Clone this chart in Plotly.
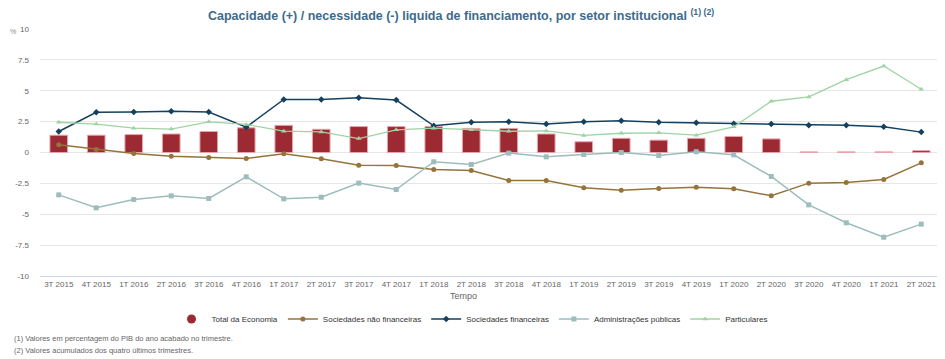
import plotly.graph_objects as go

categories = ["3T 2015", "4T 2015", "1T 2016", "2T 2016", "3T 2016", "4T 2016",
              "1T 2017", "2T 2017", "3T 2017", "4T 2017", "1T 2018", "2T 2018",
              "3T 2018", "4T 2018", "1T 2019", "2T 2019", "3T 2019", "4T 2019",
              "1T 2020", "2T 2020", "3T 2020", "4T 2020", "1T 2021", "2T 2021"]

total_economia = [1.4, 1.4, 1.45, 1.5, 1.7, 2.0, 2.2, 1.88, 2.1, 2.1, 2.1, 1.95,
                  1.95, 1.5, 0.87, 1.15, 1.0, 1.15, 1.3, 1.1, 0.05, 0.05, 0.05, 0.15]

soc_nao_financeiras = [0.62, 0.24, -0.08, -0.3, -0.4, -0.49, -0.1, -0.51, -1.03, -1.05,
                       -1.38, -1.46, -2.27, -2.27, -2.86, -3.05, -2.92, -2.81, -2.94,
                       -3.5, -2.48, -2.43, -2.19, -0.84]

soc_financeiras = [1.7, 3.25, 3.27, 3.35, 3.27, 2.05, 4.3, 4.3, 4.43, 4.25, 2.16, 2.45,
                   2.48, 2.3, 2.48, 2.57, 2.45, 2.4, 2.32, 2.3, 2.2, 2.2, 2.08, 1.65]

adm_publicas = [-3.43, -4.48, -3.81, -3.51, -3.72, -1.97, -3.75, -3.62, -2.48, -3.0,
                -0.75, -0.97, -0.05, -0.35, -0.16, 0.0, -0.24, 0.06, -0.19, -1.94,
                -4.24, -5.69, -6.86, -5.8]

particulares = [2.45, 2.3, 1.97, 1.9, 2.48, 2.27, 1.73, 1.67, 1.13, 1.84, 1.97, 1.84,
                1.72, 1.75, 1.38, 1.56, 1.59, 1.4, 2.08, 4.15, 4.5, 5.9, 7.0, 5.12]

y_ticks = [-10, -7.5, -5, -2.5, 0, 2.5, 5, 7.5, 10]

FONT = "Liberation Sans, Arial, sans-serif"

fig = go.Figure()

fig.add_trace(go.Bar(
    x=categories, y=total_economia, name="Total da Economia", showlegend=False,
    legendgroup="total",
    marker=dict(color="#9b2a33", line=dict(color="#e9a3ab", width=1)),
))
# legend entry for the bar series drawn as a round symbol
fig.add_trace(go.Scatter(
    x=[None], y=[None], name="Total da Economia", mode="markers", legendgroup="total",
    marker=dict(color="#9b2a33", symbol="circle", size=9),
))

line_series = [
    ("Sociedades não financeiras", soc_nao_financeiras, "#94743a", "circle", 1.5),
    ("Sociedades financeiras", soc_financeiras, "#13415f", "diamond", 1.5),
    ("Administrações públicas", adm_publicas, "#9dbdbc", "square", 1.5),
    ("Particulares", particulares, "#9fd3a4", "triangle-up", 1.3),
]
for name, vals, color, sym, w in line_series:
    fig.add_trace(go.Scatter(
        x=categories, y=vals, name=name, mode="lines+markers",
        line=dict(color=color, width=w),
        marker=dict(color=color, symbol=sym, size=5),
    ))

fig.update_layout(
    width=937, height=351,
    margin=dict(l=32, r=5, t=21, b=83),
    paper_bgcolor="white", plot_bgcolor="white",
    font=dict(family=FONT, color="#666666", size=9),
    bargap=0.53,
    showlegend=True,
    legend=dict(orientation="h", x=0.48, xanchor="center", y=-0.174, yanchor="middle",
                font=dict(size=8, color="#333333"), itemwidth=30,
                traceorder="normal", tracegroupgap=0),
    xaxis=dict(
        type="category", range=[-0.5, 23.5],
        showgrid=False, showline=True, linecolor="#ccd6eb", linewidth=1,
        ticks="", tickfont=dict(size=8, color="#666666"), tickangle=0,
    ),
    yaxis=dict(
        range=[-10, 10], tickvals=y_ticks,
        ticktext=["-10", "-7.5", "-5", "-2.5", "0", "2.5", "5", "7.5", "10"],
        showgrid=True, gridcolor="#e6e6e6", gridwidth=1,
        zeroline=True, zerolinecolor="#e6e6e6", zerolinewidth=1,
        tickfont=dict(size=8, color="#666666"), ticks="", ticklabelstandoff=10,
    ),
    annotations=[
        dict(text="<b>Capacidade (+) / necessidade (-) liquida de financiamento, por setor institucional <sup>(1) (2)</sup></b>",
             xref="paper", yref="paper", x=0.468, y=1.058, showarrow=False,
             xanchor="center", yanchor="middle",
             font=dict(family=FONT, size=12.5, color="#3d6b8c")),
        dict(text="%", xref="paper", yref="paper", x=-0.0356, y=0.99, showarrow=False,
             xanchor="left", yanchor="middle", font=dict(size=7, color="#888888")),
        dict(text="Tempo", xref="paper", yref="paper", x=0.47, y=-0.081, showarrow=False,
             xanchor="center", yanchor="middle", font=dict(size=9, color="#666666")),
        dict(text="(1) Valores em percentagem do PIB do ano acabado no trimestre.",
             xref="paper", yref="paper", x=-0.031, y=-0.255, showarrow=False,
             xanchor="left", yanchor="middle", font=dict(size=7.5, color="#666666")),
        dict(text="(2) Valores acumulados dos quatro últimos trimestres.",
             xref="paper", yref="paper", x=-0.031, y=-0.30, showarrow=False,
             xanchor="left", yanchor="middle", font=dict(size=7.5, color="#666666")),
    ],
)

fig.write_html("out.html")
